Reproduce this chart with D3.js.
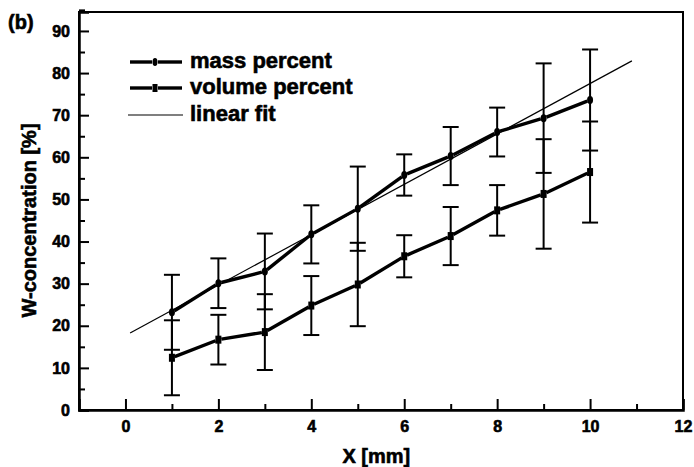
<!DOCTYPE html>
<html>
<head>
<meta charset="utf-8">
<script src="https://cdn.jsdelivr.net/npm/d3@7"></script>
<style>
  body { margin: 0; background: #fff; }
  svg text { font-family: "Liberation Sans", Arial, sans-serif; font-weight: bold; fill: #000; stroke: #000; stroke-width: 0.6px; }
</style>
</head>
<body>
<div id="chart"></div>
<script>
const xValues = [1, 2, 3, 4, 5, 6, 7, 8, 9, 10];
const massPercent = [23.2, 30.1, 32.9, 41.7, 47.8, 55.8, 60.3, 66.0, 69.3, 73.6];
const massError = [8.9, 5.9, 9.0, 6.9, 10.0, 4.9, 6.9, 5.8, 13.0, 12.0];
const volumePercent = [12.4, 16.7, 18.5, 24.8, 29.8, 36.5, 41.3, 47.4, 51.3, 56.5];
const volumeError = [8.9, 5.9, 9.0, 7.0, 9.9, 5.0, 6.9, 6.0, 13.0, 12.0];
// end points of the linear fit
const fitX = [0.1, 10.9];
const fitY = [18.3, 82.9];
const xTicks = [0, 2, 4, 6, 8, 10, 12];
const yTicks = [0, 10, 20, 30, 40, 50, 60, 70, 80, 90];
const legendLabels = ["mass percent", "volume percent", "linear fit"];

const width = 694;
const height = 467;
const margin = { top: 12, right: 11, bottom: 57, left: 79 };

const svg = d3
  .select("#chart")
  .append("svg")
  .attr("width", width)
  .attr("height", height);

const x = d3.scaleLinear().domain([-1, 12]).range([margin.left, width - margin.right]);
const y = d3.scaleLinear().domain([0, 94.5]).range([height - margin.bottom, margin.top]);

// frame
svg
  .append("rect")
  .attr("x", margin.left)
  .attr("y", margin.top)
  .attr("width", width - margin.left - margin.right)
  .attr("height", height - margin.top - margin.bottom)
  .attr("fill", "none")
  .attr("stroke", "#000")
  .attr("stroke-width", 2);

// x axis, ticks pointing inwards
const xAxis = svg
  .append("g")
  .attr("transform", `translate(0,${y(0)})`)
  .call(d3.axisBottom(x).tickValues(xTicks).tickSize(-11).tickPadding(17).tickFormat(d3.format("d")));
xAxis.select(".domain").attr("stroke-width", 2.5);
xAxis.selectAll(".tick line").attr("stroke-width", 2);
xAxis.selectAll(".tick text").attr("font-size", 16).attr("dy", "0.32em");

svg
  .append("g")
  .attr("transform", `translate(0,${y(0)})`)
  .call(d3.axisBottom(x).tickValues([1, 3, 5, 7, 9, 11]).tickSize(-6).tickFormat(""))
  .call((g) => g.select(".domain").remove())
  .selectAll(".tick line")
  .attr("stroke-width", 2);

// y axis
const yAxis = svg
  .append("g")
  .attr("transform", `translate(${x(-1)},0)`)
  .call(d3.axisLeft(y).tickValues(yTicks).tickSize(-10).tickPadding(9));
yAxis.select(".domain").attr("stroke-width", 2.5);
yAxis.selectAll(".tick line").attr("stroke-width", 2);
yAxis.selectAll(".tick text").attr("font-size", 16);

svg
  .append("g")
  .attr("transform", `translate(${x(-1)},0)`)
  .call(d3.axisLeft(y).tickValues(yTicks.map((d) => d + 5)).tickSize(-6).tickFormat(""))
  .call((g) => g.select(".domain").remove())
  .selectAll(".tick line")
  .attr("stroke-width", 2);

// axis titles
svg
  .append("text")
  .attr("x", x(5.4))
  .attr("y", 463)
  .attr("text-anchor", "middle")
  .attr("font-size", 20)
  .text("X [mm]");

svg
  .append("text")
  .attr("transform", `translate(36,${y(45)}) rotate(-90)`)
  .attr("text-anchor", "middle")
  .attr("font-size", 20)
  .text("W-concentration [%]");

svg
  .append("text")
  .attr("x", 8)
  .attr("y", 29)
  .attr("font-size", 20)
  .text("(b)");

// linear fit
svg
  .append("line")
  .attr("x1", x(fitX[0]))
  .attr("y1", y(fitY[0]))
  .attr("x2", x(fitX[1]))
  .attr("y2", y(fitY[1]))
  .attr("stroke", "#000")
  .attr("stroke-width", 1.2);

const series = [
  { values: massPercent, errors: massError, marker: "circle" },
  { values: volumePercent, errors: volumeError, marker: "square" },
];

// draw broken line segments with a little gap at each marker
function drawSegments(g, pts, gap) {
  for (let i = 0; i < pts.length - 1; i++) {
    const [x1, y1] = pts[i];
    const [x2, y2] = pts[i + 1];
    const len = Math.hypot(x2 - x1, y2 - y1);
    const ux = (x2 - x1) / len;
    const uy = (y2 - y1) / len;
    g.append("line")
      .attr("x1", x1 + ux * gap)
      .attr("y1", y1 + uy * gap)
      .attr("x2", x2 - ux * gap)
      .attr("y2", y2 - uy * gap)
      .attr("stroke", "#000")
      .attr("stroke-width", 3.4);
  }
}

series.forEach((s) => {
  const g = svg.append("g");
  const pts = xValues.map((d, i) => [x(d), y(s.values[i])]);

  // error bars
  const bars = g
    .selectAll(".err")
    .data(xValues)
    .enter()
    .append("g")
    .attr("class", "err");
  bars
    .append("line")
    .attr("x1", (d) => x(d))
    .attr("x2", (d) => x(d))
    .attr("y1", (d, i) => y(s.values[i] + s.errors[i]))
    .attr("y2", (d, i) => y(s.values[i] - s.errors[i]))
    .attr("stroke", "#000")
    .attr("stroke-width", 2);
  [1, -1].forEach((sign) => {
    bars
      .append("line")
      .attr("x1", (d) => x(d) - 8)
      .attr("x2", (d) => x(d) + 8)
      .attr("y1", (d, i) => y(s.values[i] + sign * s.errors[i]))
      .attr("y2", (d, i) => y(s.values[i] + sign * s.errors[i]))
      .attr("stroke", "#000")
      .attr("stroke-width", 2);
  });

  drawSegments(g, pts, 3);

  if (s.marker === "circle") {
    g.selectAll(".pt")
      .data(pts)
      .enter()
      .append("ellipse")
      .attr("cx", (d) => d[0])
      .attr("cy", (d) => d[1])
      .attr("rx", 3)
      .attr("ry", 4);
  } else {
    g.selectAll(".pt")
      .data(pts)
      .enter()
      .append("rect")
      .attr("x", (d) => d[0] - 3)
      .attr("y", (d) => d[1] - 4)
      .attr("width", 6)
      .attr("height", 8);
  }
});

// legend
const legend = svg.append("g");
const legendY = [62, 88, 115];
legendLabels.forEach((label, i) => {
  const ly = legendY[i];
  if (i < 2) {
    drawSegments(legend, [[127, ly], [155, ly], [185, ly]], 3);
    if (i === 0) {
      legend.append("ellipse").attr("cx", 155).attr("cy", ly).attr("rx", 2.5).attr("ry", 4);
    } else {
      legend.append("rect").attr("x", 152.5).attr("y", ly - 4).attr("width", 5).attr("height", 8);
    }
  } else {
    legend
      .append("line")
      .attr("x1", 128)
      .attr("x2", 183)
      .attr("y1", ly)
      .attr("y2", ly)
      .attr("stroke", "#000")
      .attr("stroke-width", 1.2);
  }
  legend
    .append("text")
    .attr("x", 190)
    .attr("y", ly + 6)
    .attr("font-size", 22)
    .text(label);
});
</script>
</body>
</html>
